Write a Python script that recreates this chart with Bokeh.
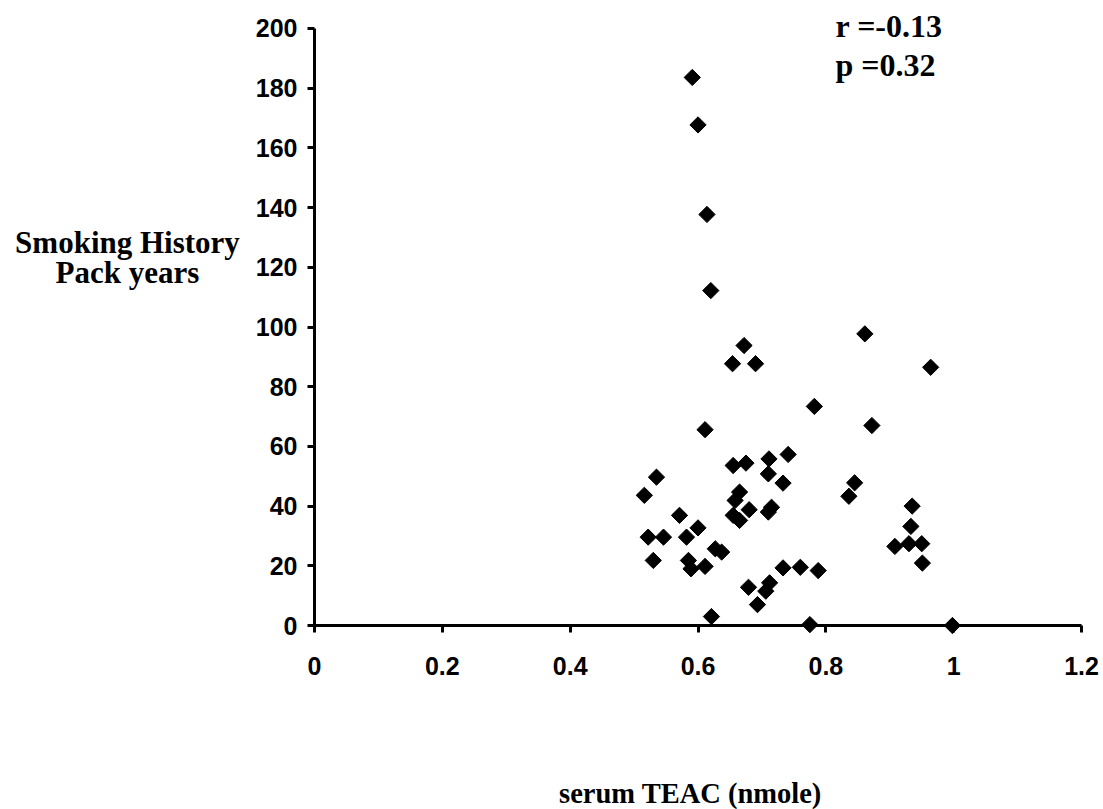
import math
from bokeh.plotting import figure
from bokeh.models import Range1d, FixedTicker, NumeralTickFormatter, Label
from bokeh.embed import file_html
from bokeh.resources import INLINE

# serum TEAC (nmole) and smoking history (pack years)
teac = [0.591, 0.600, 0.614, 0.620,
        0.672, 0.654, 0.690, 0.611,
        0.655, 0.675, 0.711, 0.741, 0.710, 0.733, 0.665, 0.658, 0.680, 0.715, 0.710, 0.655, 0.665,
        0.535, 0.516,
        0.571, 0.600, 0.582, 0.522, 0.546, 0.627, 0.637, 0.530, 0.585, 0.589, 0.611,
        0.679, 0.712, 0.706, 0.693, 0.621, 0.733,
        0.861, 0.964, 0.782, 0.872, 0.845, 0.836, 0.935, 0.933, 0.908, 0.930, 0.950, 0.951,
        0.760, 0.788, 0.775, 0.998]
pack_years = [183.6, 167.7, 137.7, 112.2,
              93.8, 87.7, 87.7, 65.6,
              53.6, 54.4, 55.8, 57.3, 50.8, 47.7, 44.7, 41.9, 38.8, 39.6, 38.0, 36.9, 35.2,
              49.7, 43.6,
              36.9, 32.7, 29.6, 29.6, 29.6, 25.7, 24.6, 21.8, 21.8, 19.0, 19.8,
              12.8, 14.3, 11.5, 7.0, 3.0, 19.3,
              97.7, 86.5, 73.4, 67.0, 47.8, 43.3, 40.0, 33.2, 26.5, 27.4, 27.4, 20.9,
              19.5, 18.4, 0.3, 0.0]

x_ticks = [0, 0.2, 0.4, 0.6, 0.8, 1.0, 1.2]
y_ticks = [0, 20, 40, 60, 80, 100, 120, 140, 160, 180, 200]

y_title_lines = ["Smoking History", "Pack years"]
x_title = "serum TEAC (nmole)"
stats_lines = ["r =-0.13", "p =0.32"]

W, H = 1100, 809
# the frame fills the whole canvas; axes are fixed at x=0 / y=0 so nothing is clipped
p = figure(width=W, height=H, output_backend="svg", toolbar_location=None,
           x_range=Range1d(-0.49124, 1.22966), y_range=Range1d(-61.64, 209.38),
           min_border=0)
p.background_fill_color = "white"
p.border_fill_color = "white"
p.outline_line_color = None
p.grid.visible = False

for ax in (p.xaxis[0], p.yaxis[0]):
    ax.axis_line_width = 3
    ax.axis_line_color = "black"
    ax.major_tick_line_width = 3
    ax.major_tick_line_color = "black"
    ax.major_tick_out = 7
    ax.major_tick_in = 0
    ax.minor_tick_line_color = None
    ax.major_label_text_font = "Liberation Sans"
    ax.major_label_text_font_style = "bold"
    ax.major_label_text_font_size = "25px"
    ax.major_label_text_color = "black"

p.xaxis.ticker = FixedTicker(ticks=x_ticks)
p.xaxis.formatter = NumeralTickFormatter(format="0.[0]")
p.xaxis.fixed_location = 0
p.xaxis.bounds = (0, 1.2)
p.xaxis.major_label_standoff = 24

p.yaxis.ticker = FixedTicker(ticks=y_ticks)
p.yaxis.fixed_location = 0
p.yaxis.bounds = (0, 200)
p.yaxis.major_label_standoff = 10

p.scatter(teac, pack_years, marker="square", angle=math.pi / 4, size=11.5,
          fill_color="black", line_color="black")

serif = dict(text_font="Liberation Serif", text_font_style="bold", text_color="black")

p.add_layout(Label(x=-0.2926, y=128.3, text=y_title_lines[0], text_align="center",
                   text_baseline="alphabetic", text_font_size="31px", **serif))
p.add_layout(Label(x=-0.2926, y=118.3, text=y_title_lines[1], text_align="center",
                   text_baseline="alphabetic", text_font_size="31px", **serif))
p.add_layout(Label(x=0.5882, y=-56.3, text=x_title, text_align="center",
                   text_baseline="alphabetic", text_font_size="28.5px", **serif))
p.add_layout(Label(x=0.8151, y=200.67, text=stats_lines[0], text_align="left",
                   text_baseline="alphabetic", text_font_size="32px", **serif))
p.add_layout(Label(x=0.8151, y=187.9, text=stats_lines[1], text_align="left",
                   text_baseline="alphabetic", text_font_size="32px", **serif))

open("out.html", "w").write(file_html(p, INLINE))
